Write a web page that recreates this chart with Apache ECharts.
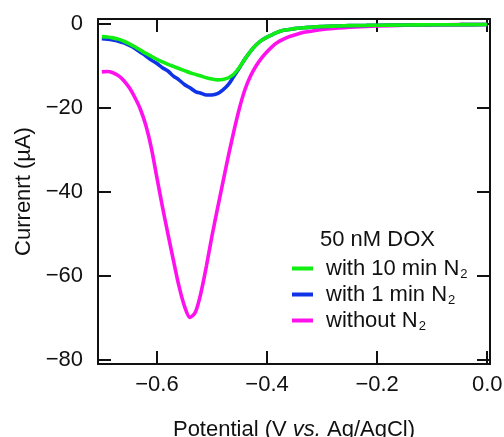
<!DOCTYPE html>
<html>
<head>
<meta charset="utf-8">
<script src="https://cdn.jsdelivr.net/npm/echarts@6/dist/echarts.min.js"></script>
<style>
html,body{margin:0;padding:0;background:#fff;}
#c{width:504px;height:437px;}
</style>
</head>
<body>
<div id="c"></div>
<script>
// Potential (V vs. Ag/AgCl)
const potential = [-0.70,-0.69,-0.68,-0.67,-0.66,-0.65,-0.64,-0.63,-0.62,-0.61,
  -0.60,-0.59,-0.58,-0.57,-0.56,-0.55,-0.54,-0.53,-0.52,-0.51,
  -0.50,-0.49,-0.48,-0.47,-0.46,-0.45,-0.44,-0.43,-0.42,-0.41,
  -0.40,-0.39,-0.38,-0.37,-0.36,-0.35,-0.34,-0.33,-0.32,-0.31,
  -0.30,-0.28,-0.26,-0.24,-0.22,-0.20,-0.15,-0.10,-0.05,0.00];

// Current (µA)
const withoutN2 = [-11.4,-11.3,-11.6,-12.3,-13.5,-15.2,-17.5,-20.3,-24.2,-29.6,
  -36.6,-43.5,-50.0,-56.3,-62.4,-67.2,-69.9,-68.6,-64.0,-57.6,
  -50.5,-44.0,-37.6,-31.3,-25.4,-20.0,-15.6,-12.4,-10.0,-8.1,
  -6.6,-5.3,-4.3,-3.6,-3.0,-2.6,-2.2,-1.9,-1.7,-1.5,
  -1.3,-1.05,-0.85,-0.7,-0.55,-0.45,-0.3,-0.2,-0.15,-0.1];

const with1minN2 = [-3.5,-3.6,-3.8,-4.1,-4.5,-5.1,-5.8,-6.7,-7.6,-8.6,
  -9.4,-10.4,-11.2,-12.4,-13.3,-14.4,-15.2,-16.1,-16.5,-16.9,
  -16.9,-16.6,-15.7,-14.4,-12.4,-10.4,-8.3,-6.5,-5.0,-3.9,
  -3.1,-2.5,-1.9,-1.5,-1.3,-1.1,-0.95,-0.85,-0.75,-0.65,
  -0.6,-0.5,-0.42,-0.36,-0.32,-0.28,-0.22,-0.18,-0.15,-0.12];

const with10minN2 = [-3.0,-3.1,-3.3,-3.6,-4.1,-4.7,-5.4,-6.2,-7.0,-7.7,
  -8.4,-9.0,-9.6,-10.1,-10.6,-11.1,-11.6,-12.0,-12.4,-12.8,
  -13.1,-13.3,-13.2,-12.8,-11.9,-10.3,-8.3,-6.5,-5.0,-3.9,
  -3.1,-2.5,-1.9,-1.5,-1.3,-1.1,-0.95,-0.85,-0.75,-0.65,
  -0.6,-0.5,-0.42,-0.36,-0.32,-0.28,-0.22,-0.18,-0.15,-0.12];

const xTicks = [-0.6,-0.4,-0.2,0.0];
const yTicks = [-80,-60,-40,-20,0];

const seriesNames = ['without N2','with 1 min N2','with 10 min N2'];
const legendTitle = '50 nM DOX';

const FONT = 'Liberation Sans, Arial, Helvetica, sans-serif';
const pair = ys => potential.map((x,i)=>[x, ys[i]]);
const minus = s => s.replace('-', '\u2212');

const chart = echarts.init(document.getElementById('c'));
const axisLine = {show:true, onZero:false, lineStyle:{color:'#111', width:2}};
const tick = vals => ({show:true, inside:true, length:13, lineStyle:{color:'#111', width:2}, customValues: vals});

chart.setOption({
  animation:false,
  backgroundColor:'#fff',
  grid:{left:98, right:14, top:19, bottom:73, containLabel:false, outerBoundsMode:'none'},
  xAxis:[{
    type:'value', min:-0.707, max:0.005, position:'bottom',
    axisLine, axisTick:tick(xTicks), splitLine:{show:false},
    axisLabel:{customValues:xTicks, margin:10, color:'#111', fontSize:22, fontFamily:FONT,
      formatter:v=>minus(v.toFixed(1))},
    name:'Potential (V {i|vs.} Ag/AgCl)', nameLocation:'middle', nameGap:55,
    nameTextStyle:{color:'#111', fontSize:22, fontFamily:FONT,
      rich:{i:{fontStyle:'italic', fontSize:22, fontFamily:FONT, color:'#111'}}}
  },{
    type:'value', min:-0.707, max:0.005, position:'top',
    axisLine, axisTick:tick(xTicks), axisLabel:{show:false}, splitLine:{show:false}
  }],
  yAxis:[{
    type:'value', min:-81, max:1.2, position:'left',
    axisLine, axisTick:tick(yTicks), splitLine:{show:false},
    axisLabel:{customValues:yTicks, margin:15, color:'#111', fontSize:22, fontFamily:FONT,
      formatter:v=>minus(String(Math.round(v)))},
    name:'Currenrt (\u00b5A)', nameLocation:'middle', nameGap:62,
    nameTextStyle:{color:'#111', fontSize:22, fontFamily:FONT}
  },{
    type:'value', min:-81, max:1.2, position:'right',
    axisLine, axisTick:tick(yTicks), axisLabel:{show:false}, splitLine:{show:false}
  }],
  legend:{
    data:[seriesNames[2], seriesNames[1], seriesNames[0]],
    orient:'vertical', left:287, top:251, itemWidth:21, itemHeight:4, itemGap:1,
    icon:'rect', selectedMode:false,
    formatter:n=>'{a|'+n.slice(0,-1)+'}{s|2}',
    textStyle:{color:'#111', fontSize:22, fontFamily:FONT, padding:[0,0,0,8],
      rich:{
        a:{fontSize:22, fontFamily:FONT, color:'#111', lineHeight:22},
        s:{fontSize:13, fontFamily:FONT, color:'#111', lineHeight:9, padding:[12,0,0,1]}
      }}
  },
  graphic:[{type:'text', left:320, top:229,
    style:{text:legendTitle, fill:'#111', font:'22px '+FONT}}],
  series:[
    {name:seriesNames[0], type:'line', data:pair(withoutN2), showSymbol:false, smooth:0.3,
      color:'#ff11ee', lineStyle:{width:3.6}},
    {name:seriesNames[1], type:'line', data:pair(with1minN2), showSymbol:false, smooth:0.3,
      color:'#0f33e6', lineStyle:{width:3.6}},
    {name:seriesNames[2], type:'line', data:pair(with10minN2), showSymbol:false, smooth:0.3,
      color:'#11ee11', lineStyle:{width:3.6}}
  ]
});
</script>
</body>
</html>
